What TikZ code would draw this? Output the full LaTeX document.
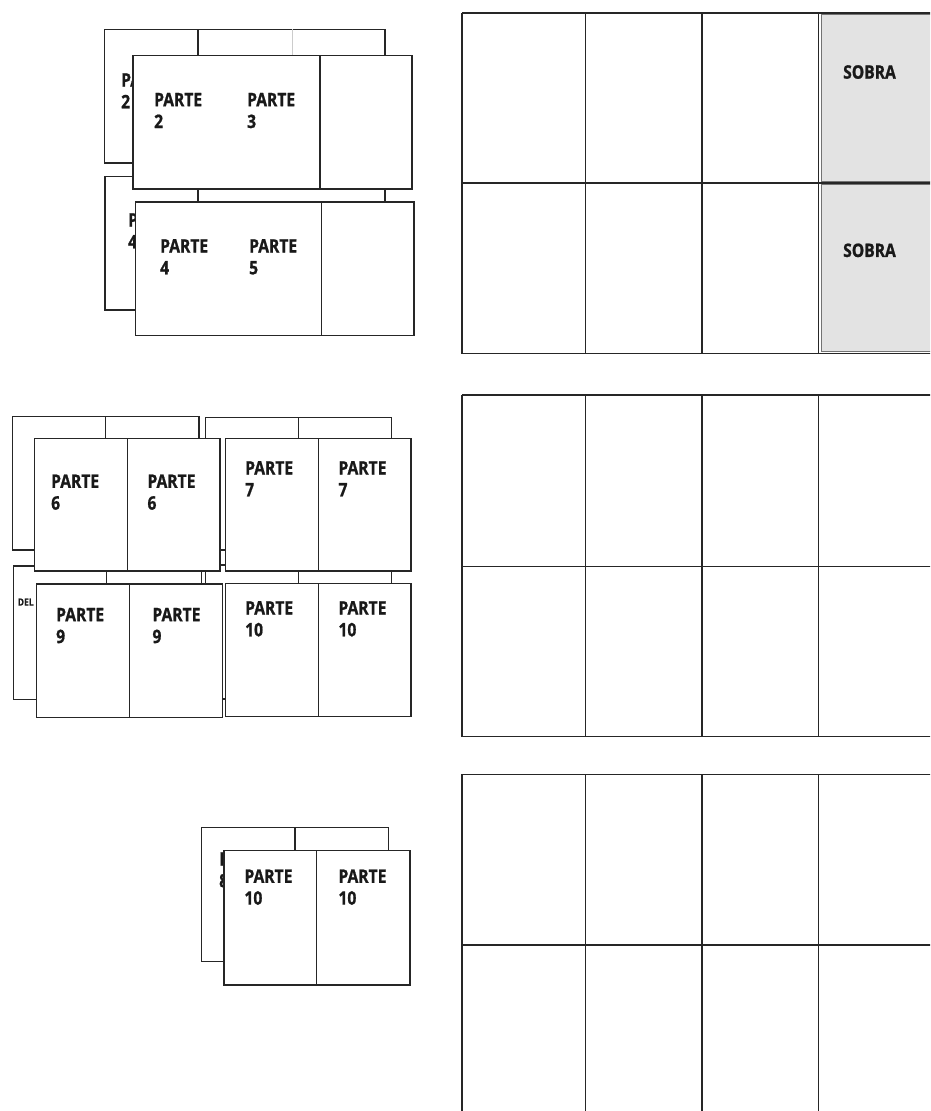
\documentclass[tikz,border=0pt]{standalone}
\usepackage{fontspec}
\newfontfamily\lblfont[FakeStretch=0.84, BoldFeatures={FakeBold=1}]{Open Sans}
\begin{document}
\begin{tikzpicture}[x=1pt,y=-1pt,
  sheet/.style={draw=black!85, fill=white, line width=1.35pt},
  rule/.style={draw=black!85, line width=1.35pt},
  faint/.style={draw=black!20, line width=0.8pt},
  lbl/.style={font=\lblfont\bfseries\fontsize{18.6}{21.8}\selectfont, align=left, anchor=north west, inner sep=0pt, text=black!90},
  small/.style={font=\lblfont\bfseries\fontsize{10}{12}\selectfont, anchor=north west, inner sep=0pt, text=black!90},
  sobracell/.style={fill=black!11, draw=black!55, line width=1pt}]
\clip (0,0) rectangle (930,1111);
\useasboundingbox (0,0) rectangle (930,1111);
\fill[white] (0,0) rectangle (930,1111);

% ---------- top-left group ----------
\draw[sheet] (104.3,29.3) rectangle (385,163);
\draw[rule] (198,29.3) -- (198,163);
\draw[faint] (292,29.3) -- (292,163);
\node[lbl] (b1t) at (121,73) {PARTE\\2};
\draw[sheet] (105,176.7) rectangle (385,310);
\draw[rule] (198,176.7) -- (198,310);
\node[lbl] (b2t) at (128,213) {PARTE\\4};
\draw[sheet] (133,55.7) rectangle (412,189);
\draw[rule] (320,55.7) -- (320,189);
\node[lbl] (f1a) at (154,92.7) {PARTE\\2};
\node[lbl] (f1b) at (247,92.7) {PARTE\\3};
\draw[sheet] (135.7,202) rectangle (414,335.7);
\draw[rule] (321.7,202) -- (321.7,335.7);
\node[lbl] (f2a) at (160,239) {PARTE\\4};
\node[lbl] (f2b) at (249,239) {PARTE\\5};

% ---------- middle-left group ----------
\draw[sheet] (12.3,416.7) rectangle (199,550);
\draw[rule] (105.7,416.7) -- (105.7,550);
\draw[sheet] (205.7,417.3) rectangle (391.7,550);
\draw[rule] (298.3,417.3) -- (298.3,550);
\draw[sheet] (13.3,566) rectangle (201.7,699.3);
\draw[rule] (106.7,566) -- (106.7,699.3);
\node[small] (bct) at (17.7,598.3) {DEL};
\draw[sheet] (205.7,565) rectangle (391.7,699);
\draw[rule] (298.3,565) -- (298.3,699);

\draw[sheet] (34.3,438.3) rectangle (220,571);
\draw[rule] (127.3,438.3) -- (127.3,571);
\node[lbl] (fa1) at (51,474.3) {PARTE\\6};
\node[lbl] (fa2) at (147.3,474.3) {PARTE\\6};
\draw[sheet] (225.7,438.3) rectangle (411,571);
\draw[rule] (318.3,438.3) -- (318.3,571);
\node[lbl] (fb1) at (245,461) {PARTE\\7};
\node[lbl] (fb2) at (338.3,461) {PARTE\\7};
\draw[sheet] (36.7,584) rectangle (222.3,717.3);
\draw[rule] (129.3,584) -- (129.3,717.3);
\node[lbl] (fc1) at (56,607.7) {PARTE\\9};
\node[lbl] (fc2) at (152.3,607.7) {PARTE\\9};
\draw[sheet] (225.7,583.3) rectangle (411,716.7);
\draw[rule] (318.3,583.3) -- (318.3,716.7);
\node[lbl] (fd1) at (245,601) {PARTE\\10};
\node[lbl] (fd2) at (338.3,601) {PARTE\\10};

% ---------- bottom-left group ----------
\draw[sheet] (201.7,827.3) rectangle (388.3,961.7);
\draw[rule] (295,827.3) -- (295,961.7);
\node[lbl] (b3t) at (219,852) {PARTE\\8};
\draw[sheet] (224,850.7) rectangle (410,985);
\draw[rule] (316.7,850.7) -- (316.7,985);
\node[lbl] (fe1) at (244.3,869.3) {PARTE\\10};
\node[lbl] (fe2) at (338.3,869.3) {PARTE\\10};

% ---------- grid 1 ----------
\draw[sobracell] (821.7,14.5) rectangle (940,181.5);
\draw[sobracell] (821.7,184.5) rectangle (940,351.5);
\node[lbl] (s1) at (843,65) {SOBRA};
\node[lbl] (s2) at (843,243.3) {SOBRA};
\foreach \yy in {13,183,353.5} \draw[rule] (462,\yy) -- (940,\yy);
\foreach \xx in {462,585.7,702,818.5} \draw[rule] (\xx,13) -- (\xx,353.5);

% ---------- grid 2 ----------
\foreach \yy in {395,566.7,736.7} \draw[rule] (462,\yy) -- (940,\yy);
\foreach \xx in {462,585.7,702,818.5} \draw[rule] (\xx,395) -- (\xx,736.7);

% ---------- grid 3 ----------
\foreach \yy in {774.3,945} \draw[rule] (462,\yy) -- (940,\yy);
\foreach \xx in {462,585.7,702,818.5} \draw[rule] (\xx,774.3) -- (\xx,1120);
\end{tikzpicture}
\end{document}
